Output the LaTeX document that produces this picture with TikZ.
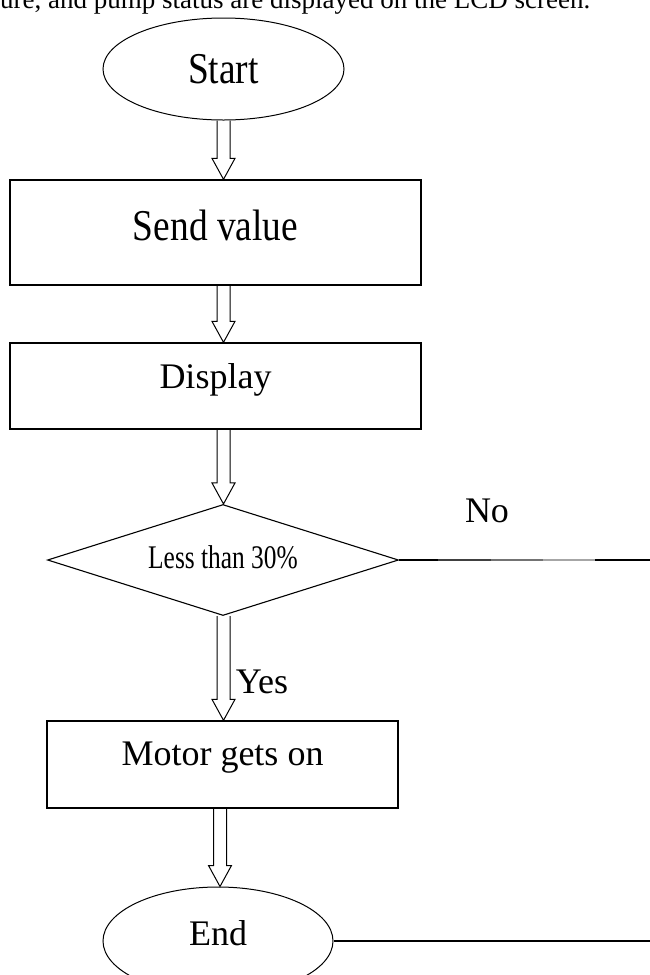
\documentclass[tikz,border=0pt]{standalone}
\usepackage{fontspec}
\setmainfont{Liberation Serif}
\usetikzlibrary{shapes.geometric,calc}
\newcommand{\sqz}[2]{\scalebox{#1}[1]{#2}}
\newcommand{\blockarr}[3]{%
  \draw[arrowline] let \p1=(#1 |- #2), \p2=(#1 |- #3) in
    (\x1-6.5pt,\y1) -- (\x1-6.5pt,\y2+21pt) -- (\x1-11.5pt,\y2+21pt) -- (\x1,\y2)
    -- (\x1+11.5pt,\y2+21pt) -- (\x1+6.5pt,\y2+21pt) -- (\x1+6.5pt,\y1);}
\begin{document}
\begin{tikzpicture}[x=1pt,y=-1pt,
  box/.style={draw, line width=1.3pt, rectangle, inner sep=0pt},
  oval/.style={draw, line width=1pt, ellipse, inner sep=0pt},
  arrowline/.style={draw, line width=1pt, line join=miter},
  line/.style={draw, line width=1.2pt},
  big/.style={font=\fontsize{44}{44}\selectfont},
  mid/.style={font=\fontsize{36}{36}\selectfont},
  lab/.style={inner sep=0pt}]
\useasboundingbox (0,0) rectangle (650,975);
\clip (0,0) rectangle (650,975);

% cut-off line of text at the top
\node[anchor=base west, inner sep=0pt, font=\fontsize{27}{27}\selectfont] (toptext) at (0,8)
  {ure, and pump status are displayed on the LCD screen.};

\coordinate (spine) at (223.5,0);
\coordinate (spineb) at (220,0);

\node[oval, minimum width=241pt, minimum height=102pt, big] (start) at (223.5,69)
  {\sqz{0.85}{Start}};
\node[box, minimum width=411pt, minimum height=105pt,
  label={[lab,big,yshift=7pt]center:\sqz{0.85}{Send value}}] (send) at (215.5,232.5) {};
\node[box, minimum width=411pt, minimum height=86pt,
  label={[lab,mid,yshift=6pt]center:Display}] (disp) at (215.5,386) {};
\node[diamond, draw, line width=1.1pt, inner sep=0pt, shape aspect=3.16,
  minimum width=351pt, minimum height=111pt,
  label={[lab,font=\fontsize{33}{33}\selectfont,yshift=3pt]center:\sqz{0.77}{Less than 30\%}}] (dia) at (223,560) {};
\node[box, minimum width=351pt, minimum height=87pt,
  label={[lab,mid,yshift=7pt]center:Motor gets on}] (motor) at (222.5,764.5) {};
\node[oval, minimum width=230pt, minimum height=108pt,
  label={[lab,mid,yshift=8pt]center:End}] (end) at (218,941) {};

\node[lab, mid] (yes) at (262,682) {Yes};
\node[lab, mid] (no) at (487,511) {No};

\blockarr{spine}{start.south}{send.north}
\blockarr{spine}{send.south}{disp.north}
\blockarr{spine}{disp.south}{dia.north}
\blockarr{spine}{dia.south}{motor.north}
\blockarr{spineb}{motor.south}{end.north}

\coordinate (noend) at (650,560);
\coordinate (endend) at (650,941);
\draw[line] (dia.east) -- (noend);
\draw[line width=1.5pt, black!75] (438,560) -- (491,560);
\draw[line width=1.5pt, black!55] (491,560) -- (543,560);
\draw[line width=1.5pt, black!35] (543,560) -- (595,560);
\draw[line] (end.east) -- (endend);
\end{tikzpicture}
\end{document}
